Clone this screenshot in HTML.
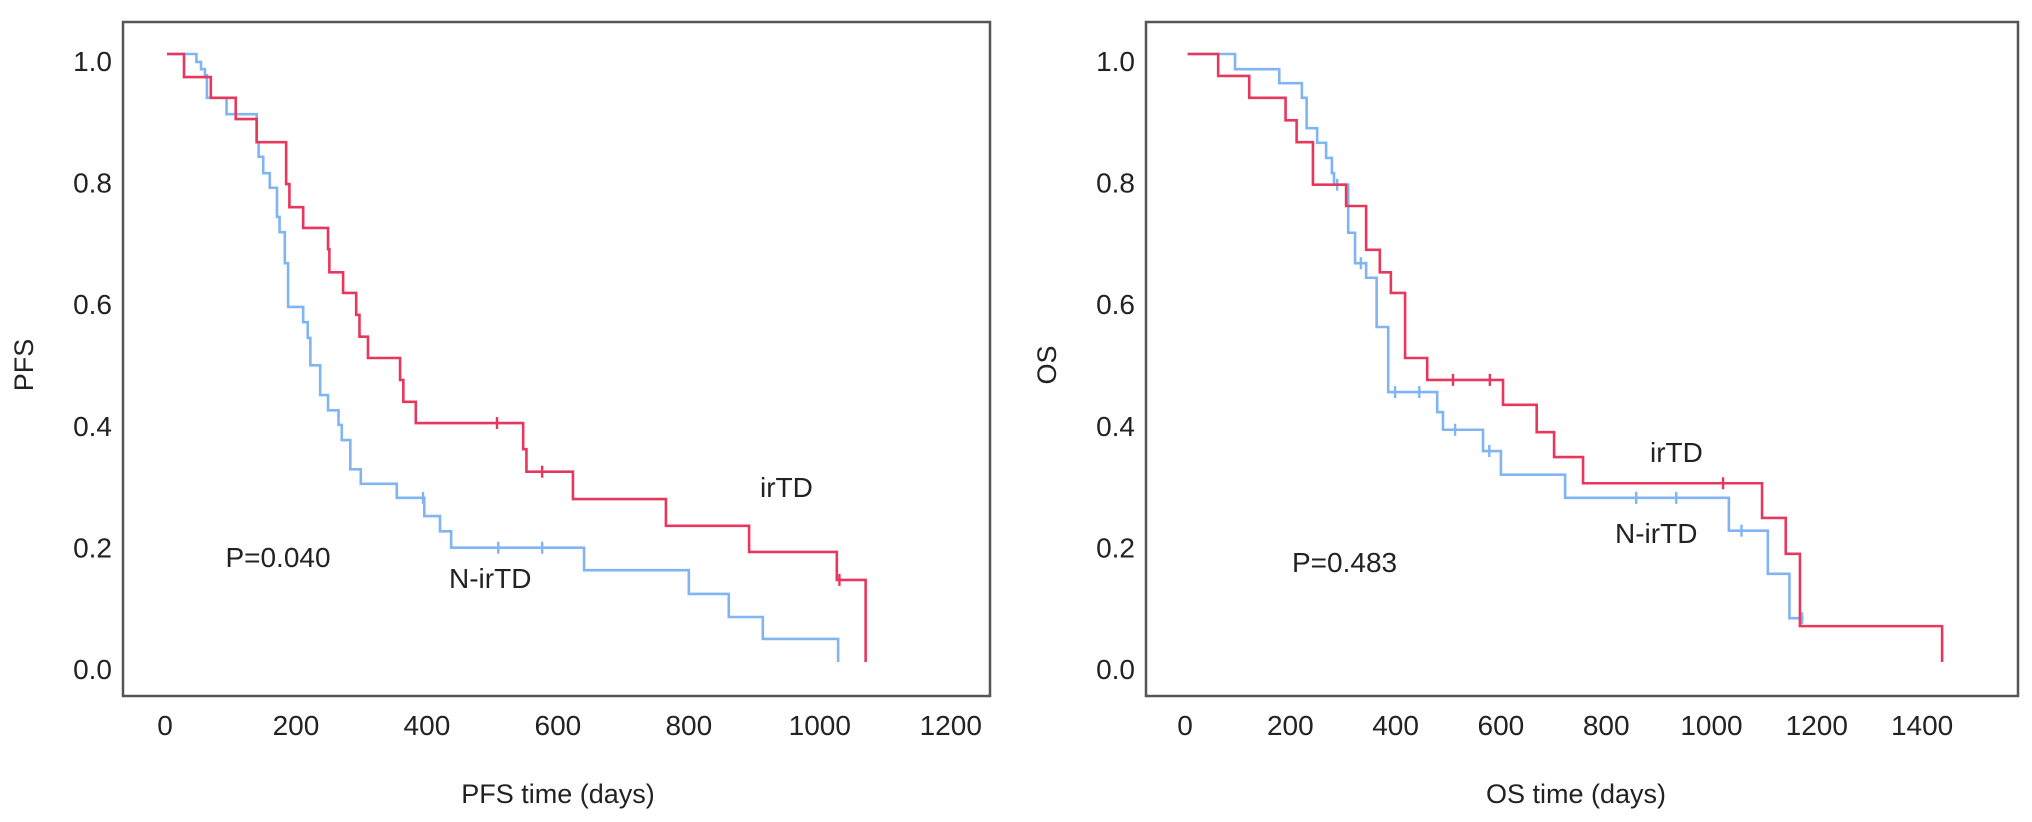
<!DOCTYPE html>
<html><head><meta charset="utf-8">
<style>
html,body{margin:0;padding:0;background:#fff;}
svg{display:block;font-family:"Liberation Sans",Arial,sans-serif;}
</style></head>
<body>
<svg id="chart" width="2032" height="822" viewBox="0 0 2032 822" xmlns="http://www.w3.org/2000/svg">
</svg>
<script>
// ---- Panel A: PFS ----
const pfsTicksX = [0,200,400,600,800,1000,1200];
const survTicksY = [0.0,0.2,0.4,0.6,0.8,1.0];
const pfsRedT = [3,29,70,108,140,185,190,211,249,251,272,292,297,310,359,364,383,547,552,623,765,892,1026,1070];
const pfsRedS = [1.0,0.962,0.928,0.893,0.855,0.786,0.748,0.714,0.679,0.641,0.607,0.571,0.535,0.5,0.464,0.428,0.393,0.35,0.313,0.268,0.224,0.181,0.135,0.0];
const pfsRedCensT = [507,576,1030];
const pfsBlueT = [3,48,55,61,64,94,140,143,150,160,171,175,183,188,211,218,222,237,249,265,270,283,299,354,396,420,437,640,800,861,913,1028];
const pfsBlueS = [1.0,0.987,0.975,0.965,0.928,0.901,0.855,0.831,0.804,0.78,0.732,0.707,0.656,0.584,0.559,0.533,0.488,0.439,0.414,0.39,0.365,0.317,0.293,0.27,0.24,0.215,0.188,0.151,0.112,0.074,0.038,0.0];
const pfsBlueCensT = [394,509,576];
// ---- Panel B: OS ----
const osTicksX = [0,200,400,600,800,1000,1200,1400];
const osRedT = [5,63,122,191,212,243,306,344,370,391,418,460,604,668,701,756,1096,1141,1168,1438];
const osRedS = [1.0,0.964,0.928,0.891,0.855,0.785,0.75,0.678,0.641,0.607,0.5,0.464,0.423,0.378,0.337,0.294,0.237,0.178,0.059,0.0];
const osRedCensT = [509,579,1022];
const osBlueT = [5,95,179,222,231,251,268,279,283,310,323,344,364,386,479,490,566,600,722,1033,1107,1148];
const osBlueS = [1.0,0.975,0.952,0.928,0.878,0.854,0.829,0.804,0.785,0.706,0.656,0.632,0.551,0.444,0.411,0.382,0.347,0.308,0.27,0.216,0.145,0.072];
const osBlueEnd = 1175;
const osBlueCensT = [289,334,399,445,513,578,857,933,1057,1172];

const NS = "http://www.w3.org/2000/svg";
const svg = document.getElementById('chart');
const RED = "#e8375c", BLUE = "#80b4f2";
function mk(tag, attrs, parent){
  const e = document.createElementNS(NS, tag);
  for (const k in attrs) e.setAttribute(k, attrs[k]);
  (parent||svg).appendChild(e);
  return e;
}
function yScale(v){ return 662 - 608*v; }

function stepPath(T, S, xs, endT){
  let d = "M" + xs(T[0]) + "," + yScale(S[0]);
  for (let i=1;i<T.length;i++){
    d += " H" + xs(T[i]) + " V" + yScale(S[i]);
  }
  if (endT !== undefined) d += " H" + xs(endT);
  return d;
}
function survAt(T,S,t){
  let v = S[0];
  for (let i=0;i<T.length;i++){ if (T[i] <= t) v = S[i]; }
  return v;
}

function panel(cfg){
  const g = mk('g', {});
  
  
  const box = mk('rect', {x:cfg.left, y:22, width:cfg.right-cfg.left, height:674, fill:"none", stroke:"#555", "stroke-width":2.5}, g);
  
  
  // y ticks
  survTicksY.forEach(v=>{
    const t = mk('text', {x:cfg.left-11, y:yScale(v)+17, "text-anchor":"end", "font-size":28, fill:"#222"}, g);
    t.textContent = v.toFixed(1);
    
    
  });
  cfg.ticksX.forEach(v=>{
    const t = mk('text', {x:cfg.xs(v), y:735, "text-anchor":"middle", "font-size":28, fill:"#222"}, g);
    t.textContent = v;
    
    
  });
  const xt = mk('text', {x:cfg.xTitleX, y:803, "text-anchor":"middle", "font-size":27, fill:"#222"}, g);
  xt.textContent = cfg.xTitle;
  
  
  const yt = mk('text', {x:0, y:0, "text-anchor":"middle", "font-size":27, fill:"#222", transform:"translate("+(cfg.left-90)+",365) rotate(-90)"}, g);
  yt.textContent = cfg.yTitle;
  
  
  // series
  cfg.series.forEach(s=>{
    const p = mk('path', {d:stepPath(s.T, s.S, cfg.xs, s.end), fill:"none", stroke:s.color, "stroke-width":2.6, "stroke-linejoin":"miter"}, g);
    
    
    s.C.forEach(ct=>{
      const cx = cfg.xs(ct), cy = yScale(survAt(s.T, s.S, ct));
      const m = mk('path', {d:"M"+cx+","+(cy-6)+" V"+(cy+6), stroke:s.color, "stroke-width":2.4}, g);
      
      
    });
  });
  cfg.labels.forEach(l=>{
    const t = mk('text', {x:l.x, y:l.y, "text-anchor":l.anchor||"start", "font-size":28, fill:"#222"}, g);
    t.textContent = l.text;
    
    
  });
}

panel({
  name:'pfs-panel', left:123, right:990,
  xs: d => 165 + 0.6548*d,
  ticksX: pfsTicksX, xTitle:'PFS time (days)', xTitleX:558, yTitle:'PFS',
  series:[
    {name:'pfs-n-irtd-curve', T:pfsBlueT, S:pfsBlueS, C:pfsBlueCensT, color:BLUE},
    {name:'pfs-irtd-curve', T:pfsRedT, S:pfsRedS, C:pfsRedCensT, color:RED}
  ],
  labels:[
    {text:'P=0.040', x:278, y:567, anchor:'middle', name:'p-value-label'},
    {text:'irTD', x:760, y:497, name:'irtd-label'},
    {text:'N-irTD', x:449, y:588, name:'n-irtd-label'}
  ]
});
panel({
  name:'os-panel', left:1146, right:2018,
  xs: d => 1185 + 0.5265*d,
  ticksX: osTicksX, xTitle:'OS time (days)', xTitleX:1576, yTitle:'OS',
  series:[
    {name:'os-n-irtd-curve', T:osBlueT, S:osBlueS, C:osBlueCensT, color:BLUE, end:osBlueEnd},
    {name:'os-irtd-curve', T:osRedT, S:osRedS, C:osRedCensT, color:RED}
  ],
  labels:[
    {text:'P=0.483', x:1292, y:572, name:'p-value-label'},
    {text:'irTD', x:1650, y:462, name:'irtd-label'},
    {text:'N-irTD', x:1615, y:543, name:'n-irtd-label'}
  ]
});
</script>
</body></html>
